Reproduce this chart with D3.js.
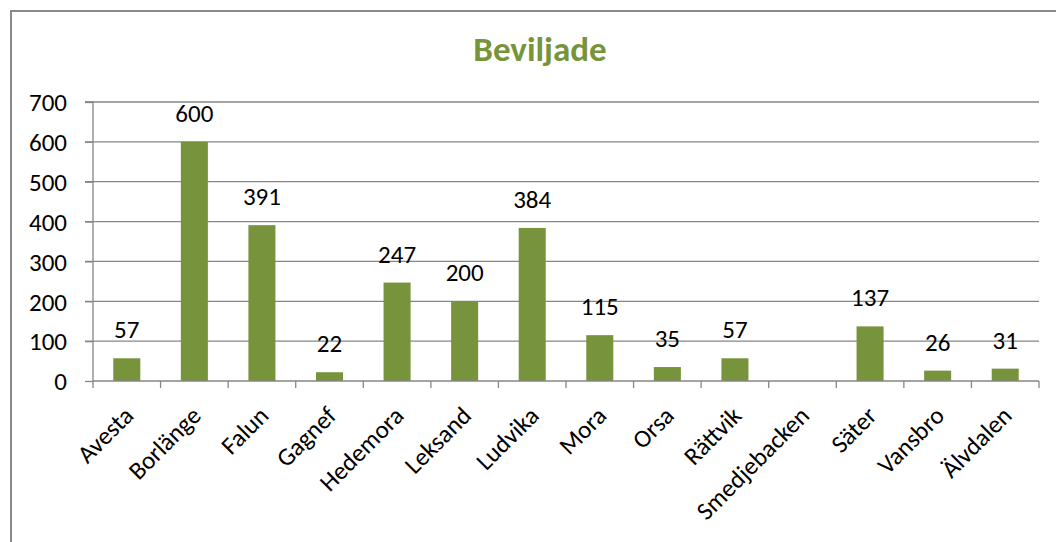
<!DOCTYPE html>
<html><head><meta charset="utf-8">
<script src="https://cdn.jsdelivr.net/npm/d3@7"></script>
<style>body{margin:0;background:#fff}svg{display:block}</style>
</head><body><svg id="c" width="1056" height="542"></svg>
<script>
const categories = ["Avesta","Borlänge","Falun","Gagnef","Hedemora","Leksand","Ludvika","Mora","Orsa","Rättvik","Smedjebacken","Säter","Vansbro","Älvdalen"];
const values = [57,600,391,22,247,200,384,115,35,57,null,137,26,31];
const yTicks = [0,100,200,300,400,500,600,700];
const title = "Beviljade";

const svg = d3.select("#c");
const font = "Carlito, Calibri, Lato, sans-serif";
const green = "#77933C";
const grid = "#868686";
const fs = 25;
svg.append("rect").attr("x",11).attr("y",11).attr("width",1060).attr("height",540)
  .attr("fill","#fff").attr("stroke","#898989").attr("stroke-width",2);

const m = {left:93, right:1039, top:102, bottom:381};
const x = d3.scaleBand().domain(categories).range([m.left,m.right]).paddingInner(0.6).paddingOuter(0.3);
const xb = d3.scaleBand().domain(categories).range([m.left,m.right]);
const y = d3.scaleLinear().domain([0,700]).range([m.bottom,m.top]);

svg.append("text").attr("x",540).attr("y",61).attr("text-anchor","middle")
  .attr("font-family",font).attr("font-weight","bold").attr("font-size",35).attr("fill",green).text(title);

// gridlines
svg.append("g").selectAll("line").data(yTicks.filter(d=>d>0)).join("line")
  .attr("x1",m.left-8).attr("x2",m.right).attr("y1",d=>y(d)).attr("y2",d=>y(d))
  .attr("stroke",grid).attr("stroke-width",1.3);
// y axis
const ya = svg.append("g").attr("transform",`translate(${m.left},0)`).call(d3.axisLeft(y).tickValues(yTicks).tickSize(8).tickPadding(18));
ya.select(".domain").attr("stroke",grid).attr("stroke-width",1.3).attr("d",`M-8,${m.top}H0V${m.bottom}`);
ya.selectAll(".tick line").attr("stroke",grid).attr("stroke-width",1.3);
ya.selectAll(".tick text").attr("font-family",font).attr("font-size",fs).attr("fill","#000").attr("dy","0.35em");

// bars
const data = categories.map((c,i)=>({c,v:values[i]})).filter(d=>d.v!=null);
svg.append("g").selectAll("rect").data(data).join("rect")
  .attr("x",d=>x(d.c)).attr("width",x.bandwidth()).attr("y",d=>y(d.v)).attr("height",d=>y(0)-y(d.v)).attr("fill",green);
// labels
svg.append("g").selectAll("text").data(data).join("text")
  .attr("x",d=>x(d.c)+x.bandwidth()/2).attr("y",d=>y(d.v)-20).attr("text-anchor","middle")
  .attr("font-family",font).attr("font-size",fs).attr("fill","#000").text(d=>d.v);

// x axis
const xa = svg.append("g").attr("transform",`translate(0,${m.bottom})`).call(d3.axisBottom(xb).tickSize(0));
xa.select(".domain").attr("stroke",grid).attr("stroke-width",1.3).attr("d",`M${m.left},0H${m.right}`);
xa.selectAll(".tick text").attr("font-family",font).attr("font-size",fs).attr("fill","#000")
  .attr("text-anchor","end").attr("transform","translate(2,30) rotate(-45)").attr("dy","0.35em").attr("y",0);
const bounds = [...categories.map(c=>xb(c)), m.right];
svg.append("g").selectAll("line").data(bounds).join("line")
  .attr("x1",d=>d).attr("x2",d=>d).attr("y1",m.bottom).attr("y2",m.bottom+7).attr("stroke",grid).attr("stroke-width",1.3);
</script></body></html>
